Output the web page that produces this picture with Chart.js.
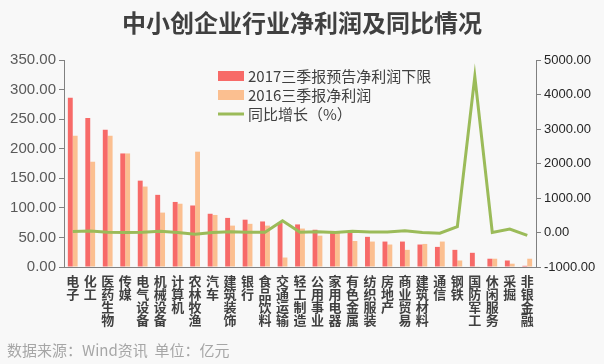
<!DOCTYPE html>
<html><head><meta charset="utf-8">
<script src="https://cdn.jsdelivr.net/npm/chart.js@4/dist/chart.umd.min.js"></script>
<style>html,body{margin:0;padding:0;background:#f8f8f8;}#wrap{width:604px;height:364px;position:relative;}</style>
</head><body><div id="wrap"><canvas id="c" width="604" height="364"></canvas></div>
<script>
const categories = ["电子","化工","医药生物","传媒","电气设备","机械设备","计算机","农林牧渔","汽车","建筑装饰","银行","食品饮料","交通运输","轻工制造","公用事业","家用电器","有色金属","纺织服装","房地产","商业贸易","建筑材料","通信","钢铁","国防军工","休闲服务","采掘","非银金融"];
const profit2017 = [286,252,232,192,146,122,110,104,90,83,80,77,75,72,63,61,60,51,43,43,38,34,29,24,14,11,2];
const profit2016 = [222,178,222,192,136,92,107,195,88,70,73,70,16,65,53,59,44,43,38,29,39,43,11,0.5,14,5.6,14];
const growth = [29,42,4,0,7,33,3,-47,2,19,10,10,340,10,19,3,35,18,13,48,-3,-21,170,4520,0,100,-84];
const leftTicks = [0,50,100,150,200,250,300,350];
const rightTicks = [-1000,0,1000,2000,3000,4000,5000];
const names = ["2017三季报预告净利润下限","2016三季报净利润","同比增长（%）"];
const FONT = '"Noto Sans CJK SC","Microsoft YaHei",sans-serif';

const deco = {
  id:'deco',
  beforeDraw(chart){
    const ctx = chart.ctx;
    ctx.save();
    ctx.fillStyle = '#f8f8f8';
    ctx.fillRect(0,0,chart.width,chart.height);
    ctx.restore();
  },
  afterDraw(chart){
    const ctx = chart.ctx;
    ctx.save();
    ctx.fillStyle = '#404040';
    ctx.font = 'bold 24px ' + FONT;
    ctx.textAlign = 'center'; ctx.textBaseline = 'middle';
    ctx.fillText('中小创企业行业净利润及同比情况', 302, 23);
    ctx.fillStyle = '#a6a6a6';
    ctx.font = '15px ' + FONT;
    ctx.textAlign = 'left';
    ctx.fillText('数据来源：Wind资讯  单位：亿元', 7, 350);
    // legend
    const ds = chart.data.datasets;
    const lx = 218, ys = [76, 95, 114];
    ctx.font = '15px ' + FONT;
    for (let i=0;i<3;i++){
      if (i<2){ ctx.fillStyle = ds[i].backgroundColor; ctx.fillRect(lx, ys[i]-5, 26, 10); }
      else { ctx.strokeStyle = ds[i].borderColor; ctx.lineWidth = 3; ctx.beginPath(); ctx.moveTo(lx, ys[i]); ctx.lineTo(lx+26, ys[i]); ctx.stroke(); }
      ctx.fillStyle = '#404040';
      ctx.fillText(names[i], lx+30, ys[i]);
    }
    ctx.restore();
  }
};

new Chart(document.getElementById('c'), {
  data: {
    labels: categories.map(s => s.split('')),
    datasets: [
      {type:'bar', label:names[0], data:profit2017, backgroundColor:'#f76a68', yAxisID:'y', order:2, categoryPercentage:0.56, barPercentage:1},
      {type:'bar', label:names[1], data:profit2016, backgroundColor:'#fbbf90', yAxisID:'y', order:2, categoryPercentage:0.56, barPercentage:1},
      {type:'line', label:names[2], data:growth, borderColor:'#9bbb59', backgroundColor:'#9bbb59', borderWidth:3, pointRadius:0, tension:0, yAxisID:'y1', order:1}
    ]
  },
  options: {
    responsive:false, animation:false, devicePixelRatio:1,
    layout:{padding:{top:60,left:0,right:0,bottom:0}},
    plugins:{legend:{display:false}, tooltip:{enabled:false}},
    scales:{
      x:{
        grid:{display:false, drawTicks:false},
        border:{color:'#808080', width:1},
        ticks:{autoSkip:false, maxRotation:0, minRotation:0, padding:8, color:'#404040', font:{family:FONT, size:13, weight:'bold', lineHeight:1.0}},
        afterFit(s){ s.height = 97; }
      },
      y:{
        position:'left', min:0, max:350,
        afterBuildTicks(s){ s.ticks = leftTicks.map(v=>({value:v})); },
        grid:{display:true, drawOnChartArea:false, drawTicks:true, tickLength:5, color:'#808080'},
        border:{color:'#808080', width:1},
        ticks:{padding:3, color:'#595959', font:{family:'"Liberation Sans",Arial,sans-serif', size:15}, callback:v=>v.toFixed(2)},
        afterFit(s){ s.width = 64; }
      },
      y1:{
        position:'right', min:-1000, max:5000,
        afterBuildTicks(s){ s.ticks = rightTicks.map(v=>({value:v})); },
        grid:{display:true, drawOnChartArea:false, drawTicks:true, tickLength:5, color:'#808080'},
        border:{color:'#808080', width:1},
        ticks:{padding:3, color:'#262626', font:{family:'"Liberation Sans",Arial,sans-serif', size:13}, callback:v=>v.toFixed(2)},
        afterFit(s){ s.width = 68; }
      }
    }
  },
  plugins:[deco]
});
</script></body></html>
